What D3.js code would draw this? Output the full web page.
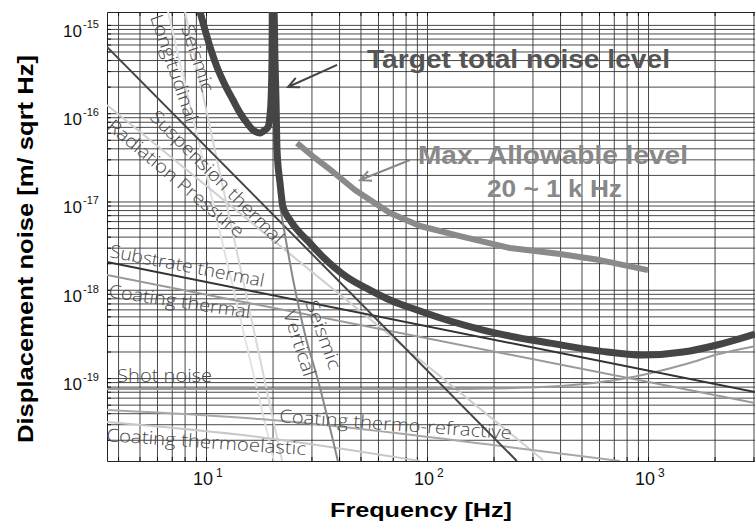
<!DOCTYPE html>
<html>
<head>
<meta charset="utf-8">
<script src="https://cdn.jsdelivr.net/npm/d3@7"></script>
<style>
  body { margin: 0; background: #fff; }
  svg text { font-family: "Liberation Sans", Arial, sans-serif; }
  .grid line { stroke: #333; stroke-width: 0.9; }
  .grid path { display: none; }
  .ticks line { stroke: #111; }
  .ticks path { stroke: #222; }
  .curve { fill: none; stroke-linejoin: round; }
  .tag { font-family: "Open Sans", sans-serif !important; font-weight: 300; font-size: 18px; fill: #474747; }
</style>
</head>
<body>
<svg width="755" height="522"></svg>
<script>
// axis ranges and tick labels
var xMin = 3.565, xMax = 3048, yMin = 1.15e-20, yMax = 1.4e-15;
var xDecades = [10, 100, 1000];
var xExponents = ["1", "2", "3"];
var yDecades = [1e-15, 1e-16, 1e-17, 1e-18, 1e-19];
var yExponents = ["-15", "-16", "-17", "-18", "-19"];

// [frequency Hz, displacement noise m/sqrt(Hz)]
var targetNoise = [
  [9.20, 1.69e-15], [9.40, 1.40e-15], [9.90, 8.78e-16], [10.53, 5.21e-16], [11.21, 3.34e-16],
  [12.19, 2.09e-16], [13.25, 1.41e-16], [14.25, 1.01e-16], [15.33, 7.76e-17], [16.32, 6.46e-17],
  [17.55, 5.97e-17], [18.49, 6.46e-17], [19.08, 6.98e-17], [19.48, 9.55e-17], [19.69, 1.41e-16],
  [19.89, 4.0e-16], [19.97, 2.0e-15], [20.25, 2.0e-15], [20.52, 4.01e-16], [20.74, 1.41e-16],
  [20.96, 3.84e-17], [21.62, 1.62e-17], [22.31, 8.67e-18], [23.99, 6.17e-18], [26.63, 4.40e-18],
  [28.64, 3.66e-18], [33.83, 2.35e-18], [43.45, 1.39e-18], [55.23, 9.93e-19], [68.03, 7.65e-19],
  [90.1, 5.90e-19], [127.1, 4.43e-19], [179.2, 3.50e-19], [237.5, 2.99e-19], [360.2, 2.49e-19],
  [606.5, 2.02e-19], [949.3, 1.82e-19], [1440, 1.97e-19], [2052, 2.37e-19], [3050, 3.15e-19]
];
var maxAllowable = [
  [25.8, 4.60e-17], [31.1, 3.11e-17], [37.6, 2.16e-17], [47.2, 1.35e-17], [68.0, 7.41e-18],
  [93.0, 5.28e-18], [141, 4.06e-18], [237.5, 2.97e-18], [400, 2.54e-18], [606, 2.17e-18], [1000, 1.67e-18]
];
var suspensionThermal = [[3.565, 5.64e-16], [255, 1.15e-20]];
var radiationPressure = [[3.565, 1.24e-16], [335, 1.18e-20]];
var seismicA = [[6.73, 1.40e-15], [20.3, 1.15e-20]];
var seismicLongitudinal = [[8.04, 1.40e-15], [22.1, 1.15e-20]];
var seismicVertical = [[21.4, 1.04e-17], [24.8, 1.29e-18], [28.1, 3.07e-19], [32.1, 9.48e-20], [39.5, 1.15e-20]];
var substrateThermal = [[3.565, 2.06e-18], [3048, 6.93e-20]];
var coatingThermal = [[3.565, 1.47e-18], [3048, 5.21e-20]];
var shotNoise = [
  [3.565, 7.5e-20], [100, 7.5e-20], [300, 7.8e-20], [500, 8.5e-20], [770, 9.8e-20],
  [1000, 1.12e-19], [1500, 1.45e-19], [2050, 1.85e-19], [3048, 2.3e-19]
];
var coatingThermoRefractive = [[3.565, 4.34e-20], [17.55, 3.43e-20], [237.5, 1.65e-20], [747, 1.15e-20]];
var coatingThermoelastic = [[3.565, 3.17e-20], [17.55, 2.14e-20], [92.9, 1.15e-20]];

var svg = d3.select("svg"),
    margin = { top: 12, right: 0, bottom: 61, left: 107 },
    width = +svg.attr("width") - margin.left - margin.right,
    height = +svg.attr("height") - margin.top - margin.bottom;

var x = d3.scaleLog().domain([xMin, xMax]).range([0, width]);
var y = d3.scaleLog().domain([yMin, yMax]).range([height, 0]);

var g = svg.append("g")
    .attr("transform", "translate(" + margin.left + "," + margin.top + ")");

// minor grid positions
var xGrid = [], yGrid = [];
for (var n = 0; n <= 3; n++)
  for (var k = 1; k <= 9; k++) {
    var v = k * Math.pow(10, n);
    if (v >= xMin && v <= xMax) xGrid.push(v);
  }
for (var n = -21; n <= -15; n++)
  for (var k = 1; k <= 9; k++) {
    var v = +(k + "e" + n);
    if (v >= yMin && v <= yMax) yGrid.push(v);
  }

g.append("g").attr("class", "grid")
    .call(d3.axisBottom(x).tickValues(xGrid).tickSize(height).tickFormat(""));
g.append("g").attr("class", "grid")
    .call(d3.axisRight(y).tickValues(yGrid).tickSize(width).tickFormat(""));

// frame ticks
g.append("g").attr("class", "ticks")
    .call(d3.axisLeft(y).tickValues(yGrid).tickSizeInner(-4).tickSizeOuter(0).tickFormat(""));
g.append("g").attr("class", "ticks")
    .call(d3.axisTop(x).tickValues(xGrid).tickSizeInner(-4).tickSizeOuter(0).tickFormat(""));
g.append("g").attr("class", "ticks")
    .attr("transform", "translate(0," + height + ")")
    .call(d3.axisBottom(x).tickValues(xGrid).tickSizeInner(-4).tickSizeOuter(0).tickFormat(""));

// decade labels
xDecades.forEach(function (d, i) {
  g.append("text").attr("x", x(d) - 3).attr("y", height + 24)
      .attr("text-anchor", "middle").style("font-size", "18px").attr("fill", "#111").text("10");
  g.append("text").attr("x", x(d) + 10).attr("y", height + 16)
      .style("font-size", "12px").attr("fill", "#111").text(xExponents[i]);
});
yDecades.forEach(function (d, i) {
  g.append("text").attr("x", -25).attr("y", y(d) + 12)
      .attr("text-anchor", "end").style("font-size", "17px").attr("fill", "#111").text("10");
  g.append("text").attr("x", -24).attr("y", y(d) + 3)
      .style("font-size", "11px").attr("fill", "#111").text(yExponents[i]);
});

svg.append("text").attr("x", 421).attr("y", 517)
    .attr("text-anchor", "middle").style("font-size", "21px").style("font-weight", "bold")
    .attr("textLength", 182).attr("lengthAdjust", "spacingAndGlyphs").text("Frequency [Hz]");
svg.append("text").attr("transform", "translate(33,249) rotate(-90)")
    .attr("text-anchor", "middle").style("font-size", "22px").style("font-weight", "bold")
    .attr("textLength", 388).attr("lengthAdjust", "spacingAndGlyphs")
    .text("Displacement noise [m/ sqrt Hz]");

// curves
svg.append("defs").append("clipPath").attr("id", "plot")
    .append("rect").attr("width", width).attr("height", height);

var line = d3.line().x(function (d) { return x(d[0]); }).y(function (d) { return y(d[1]); });
var smooth = d3.line().curve(d3.curveMonotoneX)
    .x(function (d) { return x(d[0]); }).y(function (d) { return y(d[1]); });

var curves = g.append("g").attr("clip-path", "url(#plot)");

var thin = [
  { data: seismicA, color: "#e2e2e2", w: 2 },
  { data: seismicLongitudinal, color: "#d8d8d8", w: 2 },
  { data: radiationPressure, color: "#cfcfcf", w: 2 },
  { data: coatingThermoelastic, color: "#c8c8c8", w: 2 },
  { data: coatingThermoRefractive, color: "#a8a8a8", w: 2 },
  { data: shotNoise, color: "#9a9a9a", w: 2 },
  { data: coatingThermal, color: "#999", w: 2 },
  { data: substrateThermal, color: "#333", w: 2 },
  { data: suspensionThermal, color: "#444", w: 2 },
  { data: seismicVertical, color: "#888", w: 2 }
];
thin.forEach(function (c) {
  curves.append("path").attr("class", "curve")
      .attr("d", smooth(c.data)).attr("stroke", c.color).attr("stroke-width", c.w);
});

// labels along curves: [text, freq, noise, angle, length]
var tags = [
  ["Longitudinal", 5.58, 1.23e-15, 71, 112],
  ["Seismic", 7.71, 9.49e-16, 72, 70],
  ["Suspension thermal", 5.52, 8.83e-17, 45, 180],
  ["Radiation Pressure", 3.53, 6.81e-17, 40, 172],
  ["Substrate thermal", 3.64, 2.35e-18, 11, 157],
  ["Coating thermal", 3.60, 8.28e-19, 8.5, 143],
  ["Shot noise", 3.96, 9.02e-20, 0, 95],
  ["Coating thermo-refractive", 21.4, 3.17e-20, 4.2, 233],
  ["Coating thermoelastic", 3.53, 1.93e-20, 4, 200],
  ["Seismic", 28.1, 7.08e-19, 70, 72],
  ["Vertical", 22.3, 5.46e-19, 72, 68]
];
tags.forEach(function (t) {
  g.append("text").attr("class", "tag")
      .attr("transform", "translate(" + x(t[1]) + "," + y(t[2]) + ") rotate(" + t[3] + ")")
      .attr("textLength", t[4]).attr("lengthAdjust", "spacingAndGlyphs")
      .text(t[0]);
});

curves.append("path").attr("class", "curve")
    .attr("d", line(maxAllowable)).attr("stroke", "#8a8a8a").attr("stroke-width", 6);
curves.append("path").attr("class", "curve")
    .attr("d", smooth(targetNoise)).attr("stroke", "#454545").attr("stroke-width", 7);

// annotations
function arrow(from, to, color) {
  var x0 = x(from[0]), y0 = y(from[1]), x1 = x(to[0]), y1 = y(to[1]);
  var a = Math.atan2(y1 - y0, x1 - x0), L = 12, s = 0.45;
  g.append("path").attr("fill", "none").attr("stroke", color).attr("stroke-width", 2)
      .attr("d", "M" + x0 + "," + y0 + "L" + x1 + "," + y1 +
        "M" + (x1 - L * Math.cos(a - s)) + "," + (y1 - L * Math.sin(a - s)) +
        "L" + x1 + "," + y1 +
        "L" + (x1 - L * Math.cos(a + s)) + "," + (y1 - L * Math.sin(a + s)));
}
arrow([39.2, 3.52e-16], [23.5, 1.98e-16], "#444");
arrow([83.8, 2.95e-17], [49.8, 1.75e-17], "#888");

g.append("text").attr("x", x(53.5)).attr("y", y(3.26e-16))
    .style("font-size", "26px").style("font-weight", "bold").attr("fill", "#555")
    .attr("textLength", 303).attr("lengthAdjust", "spacingAndGlyphs")
    .text("Target total noise level");
g.append("text").attr("x", x(91.0)).attr("y", y(2.66e-17))
    .style("font-size", "26px").style("font-weight", "bold").attr("fill", "#888")
    .attr("textLength", 270).attr("lengthAdjust", "spacingAndGlyphs")
    .text("Max. Allowable level");
g.append("text").attr("x", x(186.8)).attr("y", y(1.12e-17))
    .style("font-size", "24px").style("font-weight", "bold").attr("fill", "#888")
    .attr("textLength", 135).attr("lengthAdjust", "spacingAndGlyphs")
    .text("20 ~ 1 k Hz");
</script>
</body>
</html>
